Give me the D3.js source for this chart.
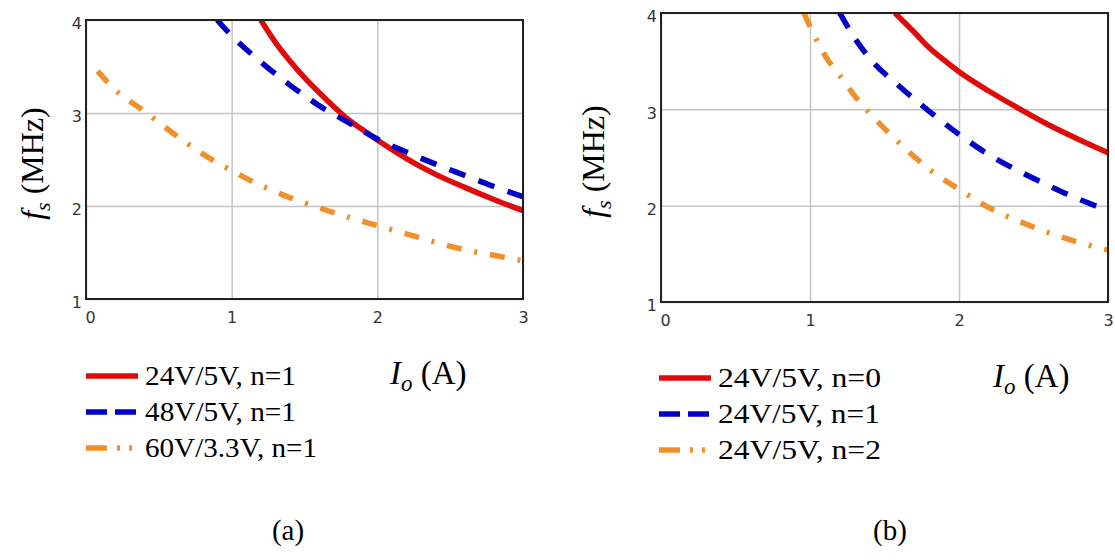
<!DOCTYPE html>
<meta charset="utf-8">
<style>
body { margin: 0; background: #fff; }
.grid line { stroke: #c4c4c4; stroke-width: 1.5px; }
.tick text { font-family: "DejaVu Sans", sans-serif; font-size: 16px; fill: #333; }
.frame { fill: none; stroke: #222; stroke-width: 2px; }
.curve { fill: none; stroke-width: 5.5px; stroke-linejoin: round; }
.serif { font-family: "Liberation Serif", "Times New Roman", serif; fill: #000; }
</style>
<body>
<script src="https://d3js.org/d3.v7.min.js"></script>
<script>

// tick values
var xTicks = [0, 1, 2, 3];
var yTicks = [1, 2, 3, 4];

// panel (a) : Io (A) -> fs (MHz)
var aRedI  = [1.2, 1.3, 1.4, 1.5, 1.6, 1.7, 1.8, 1.9, 2.0, 2.2, 2.4, 2.6, 2.8, 3.0];
var aRedF  = [4.0, 3.76, 3.56, 3.38, 3.22, 3.07, 2.93, 2.82, 2.71, 2.51, 2.34, 2.2, 2.07, 1.95];
var aBlueI = [0.9, 1.0, 1.2, 1.4, 1.6, 1.8, 2.0, 2.2, 2.4, 2.6, 2.8, 3.0];
var aBlueF = [4.0, 3.83, 3.55, 3.3, 3.08, 2.9, 2.72, 2.58, 2.45, 2.33, 2.21, 2.1];
var aOrI   = [0.08, 0.2, 0.4, 0.6, 0.8, 1.0, 1.2, 1.4, 1.6, 1.8, 2.0, 2.2, 2.4, 2.6, 2.8, 3.0];
var aOrF   = [3.45, 3.25, 3.02, 2.78, 2.56, 2.38, 2.22, 2.09, 1.98, 1.88, 1.79, 1.7, 1.61, 1.53, 1.47, 1.41];
var aNames = ["24V/5V, n=1", "48V/5V, n=1", "60V/3.3V, n=1"];

// panel (b)
var bRedI  = [1.57, 1.7, 1.8, 1.9, 2.0, 2.2, 2.4, 2.6, 2.8, 3.0];
var bRedF  = [4.0, 3.8, 3.64, 3.51, 3.39, 3.19, 3.01, 2.84, 2.69, 2.55];
var bBlueI = [1.2, 1.3, 1.4, 1.6, 1.8, 2.0, 2.2, 2.4, 2.6, 2.8, 3.0];
var bBlueF = [4.0, 3.74, 3.53, 3.24, 2.98, 2.74, 2.53, 2.36, 2.21, 2.07, 1.95];
var bOrI   = [0.96, 1.0, 1.05, 1.1, 1.2, 1.3, 1.4, 1.5, 1.6, 1.8, 2.0, 2.2, 2.4, 2.6, 2.8, 3.0];
var bOrF   = [4.0, 3.86, 3.7, 3.56, 3.35, 3.14, 2.96, 2.8, 2.65, 2.38, 2.17, 1.98, 1.84, 1.72, 1.62, 1.54];
var bNames = ["24V/5V, n=0", "24V/5V, n=1", "24V/5V, n=2"];

// line styles (red solid, blue dashed, orange dash-dot)
var colors = ["#e10a0a", "#0000c8", "#f0902a"];
var dashes = [null, "17,14", "15,13,3,13"];
var legendDashes = [null, "21,8,21", "21,10,3,9,3,20"];

function zip(xs, ys) { return xs.map(function(v, i) { return {i: v, f: ys[i]}; }); }

var svg = d3.select("body").append("svg")
    .attr("width", 1115)
    .attr("height", 560);

function drawPanel(p) {
  var x = d3.scaleLinear().domain([0, 3]).range([p.left, p.right]);
  var y = d3.scaleLinear().domain([1, 4]).range([p.bottom, p.top]);
  var g = svg.append("g");

  // grid
  g.append("g").attr("class", "grid")
    .attr("transform", "translate(0," + p.bottom + ")")
    .call(d3.axisBottom(x).tickValues(xTicks).tickSize(-(p.bottom - p.top)).tickFormat(""))
    .call(function(s) { s.select(".domain").remove(); });
  g.append("g").attr("class", "grid")
    .attr("transform", "translate(" + p.left + ",0)")
    .call(d3.axisLeft(y).tickValues(yTicks).tickSize(-(p.right - p.left)).tickFormat(""))
    .call(function(s) { s.select(".domain").remove(); });

  // tick labels
  g.append("g")
    .attr("transform", "translate(0," + p.bottom + ")")
    .call(d3.axisBottom(x).tickValues(xTicks).tickFormat(d3.format("d")).tickSize(0).tickPadding(13))
    .call(function(s) {
      s.select(".domain").remove();
      s.selectAll(".tick text").attr("dx", function(d) { return d === 0 ? 4 : 0; });
    });
  g.append("g")
    .attr("transform", "translate(" + p.left + ",0)")
    .call(d3.axisLeft(y).tickValues(yTicks).tickFormat(d3.format("d")).tickSize(0).tickPadding(4))
    .call(function(s) {
      s.select(".domain").remove();
      s.selectAll(".tick text").attr("dy", "0.55em");
    });

  // curves
  var clipId = "clip" + p.id;
  g.append("clipPath").attr("id", clipId).append("rect")
    .attr("x", p.left).attr("y", p.top)
    .attr("width", p.right - p.left).attr("height", p.bottom - p.top);
  var line = d3.line()
    .x(function(d) { return x(d.i); })
    .y(function(d) { return y(d.f); })
    .curve(d3.curveMonotoneX);
  p.series.forEach(function(s, k) {
    g.append("path")
      .datum(s)
      .attr("class", "curve")
      .attr("clip-path", "url(#" + clipId + ")")
      .attr("stroke", colors[k])
      .attr("stroke-dasharray", dashes[k])
      .attr("d", line);
  });

  g.append("rect").attr("class", "frame")
    .attr("x", p.left).attr("y", p.top)
    .attr("width", p.right - p.left).attr("height", p.bottom - p.top);

  // y title
  var yt = g.append("text").attr("class", "serif")
    .attr("transform", "translate(" + p.yTitleX + "," + ((p.top + p.bottom) / 2 + 4) + ") rotate(-90)")
    .attr("text-anchor", "middle")
    .style("font-size", "32px");
  yt.append("tspan").style("font-style", "italic").text("f");
  yt.append("tspan").style("font-style", "italic").style("font-size", "22px").attr("dy", 7).text("s");
  yt.append("tspan").attr("dy", -7).text(" (MHz)");

  // x title
  var xt = g.append("text").attr("class", "serif")
    .attr("x", p.xTitleX).attr("y", p.xTitleY)
    .style("font-size", "33px");
  xt.append("tspan").style("font-style", "italic").text("I");
  xt.append("tspan").style("font-style", "italic").style("font-size", "23px").attr("dy", 7).text("o");
  xt.append("tspan").attr("dy", -7).text(" (A)");

  // legend
  p.names.forEach(function(name, k) {
    var cy = p.legY + k * p.legStep;
    g.append("line")
      .attr("x1", p.legX).attr("x2", p.legX + 52)
      .attr("y1", cy).attr("y2", cy)
      .attr("stroke", colors[k]).attr("stroke-width", 5.5)
      .attr("stroke-dasharray", legendDashes[k]);
    g.append("text").attr("class", "serif")
      .attr("x", p.legX + 59).attr("y", cy + 9)
      .style("font-size", "27px")
      .attr("textLength", p.legW[k]).attr("lengthAdjust", "spacingAndGlyphs")
      .text(name);
  });

  // caption
  g.append("text").attr("class", "serif")
    .attr("x", p.capX).attr("y", 540)
    .attr("text-anchor", "middle")
    .style("font-size", "29px")
    .text(p.caption);
}

drawPanel({
  id: "a", left: 86, right: 523, top: 20, bottom: 299,
  series: [zip(aRedI, aRedF), zip(aBlueI, aBlueF), zip(aOrI, aOrF)],
  names: aNames, legX: 86, legY: 376, legStep: 36, legW: [151, 151, 172],
  yTitleX: 43, xTitleX: 390, xTitleY: 384, capX: 288, caption: "(a)"
});

drawPanel({
  id: "b", left: 661, right: 1108, top: 13, bottom: 302,
  series: [zip(bRedI, bRedF), zip(bBlueI, bBlueF), zip(bOrI, bOrF)],
  names: bNames, legX: 659, legY: 378, legStep: 36, legW: [163, 162, 163],
  yTitleX: 604, xTitleX: 993, xTitleY: 387, capX: 890, caption: "(b)"
});

</script>
</body>
